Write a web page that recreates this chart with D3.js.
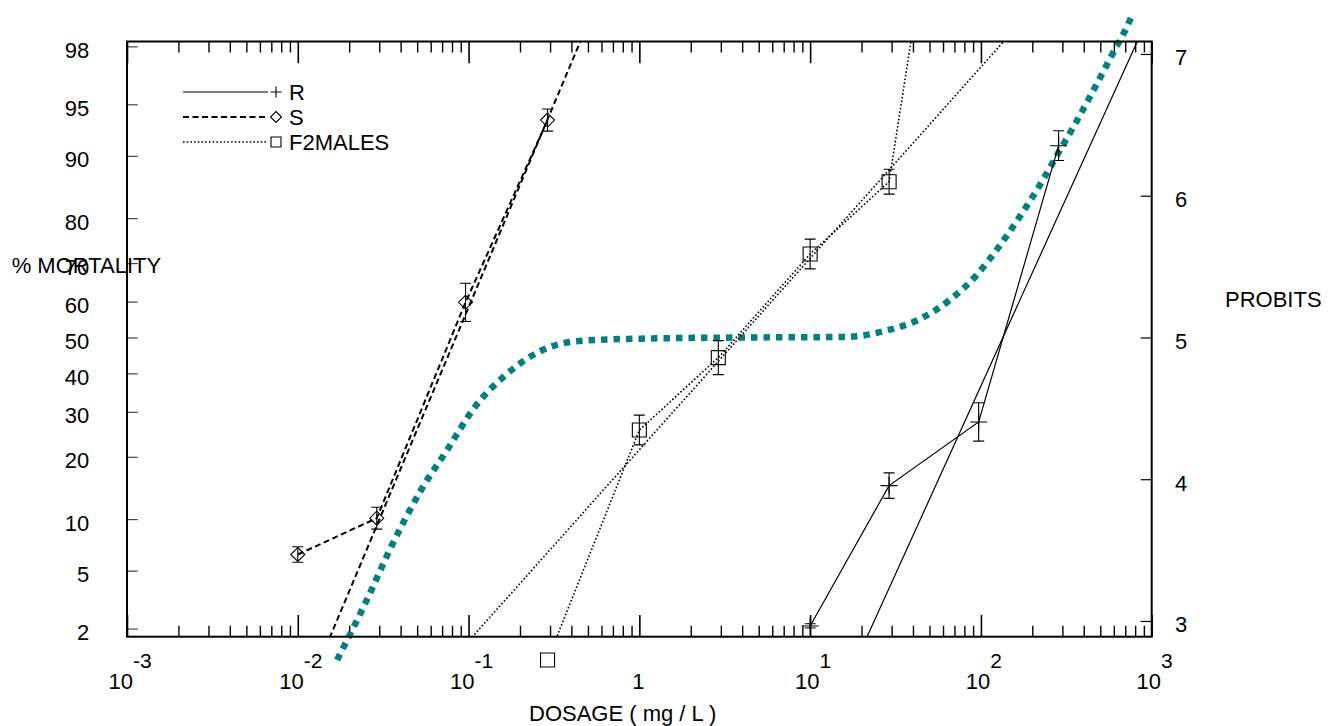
<!DOCTYPE html>
<html>
<head>
<meta charset="utf-8">
<script src="https://cdn.jsdelivr.net/npm/d3@7"></script>
<style>
  html, body { margin: 0; padding: 0; background: #fff; }
  svg { display: block; font-family: "Liberation Sans", Arial, Helvetica, sans-serif; }
</style>
</head>
<body>
<svg id="chart" width="1336" height="726"></svg>
<script>
// ---- axis ticks ----
const pctTicks = [2, 5, 10, 20, 30, 40, 50, 60, 70, 80, 90, 95, 98];
const probitTicks = [3, 4, 5, 6, 7];
const decadeExponents = [-3, -2, -1, 0, 1, 2, 3];

// ---- observed responses (probit units, with half-width of error bar) ----
const seriesNames = ["R", "S", "F2MALES"];

const rDose   = [10, 29, 97, 285];
const rProbit = [2.965, 3.955, 4.404, 6.353];
const rErr    = [0.015, 0.09, 0.135, 0.105];

const sDose   = [0.01, 0.029, 0.096, 0.29];
const sProbit = [3.469, 3.725, 5.248, 6.534];
const sErr    = [0.055, 0.077, 0.135, 0.078];

const fDose   = [0.29, 1, 2.9, 10, 29, 100];
const fProbit = [2.725, 4.347, 4.858, 5.589, 6.099, 10.26];
const fErr    = [0, 0.105, 0.12, 0.105, 0.088, 0];

// ---- fitted probit lines: probit = intercept + slope * log10(dose) ----
const fitIntercept = [-0.650, 8.079, 4.208];
const fitSlope     = [2.654, 2.866, 1.350];

// ---- expected response of a 1:1 mixture of S and R ----
const mixLog10Dose = [-1.770, -1.601, -1.448, -1.278, -1.122, -0.966, -0.767, -0.527, -0.312,
                      0.062, 0.648, 1.216, 1.438, 1.630, 1.813, 1.970, 2.106, 2.225, 2.342,
                      2.450, 2.557, 2.662, 2.762, 2.863, 2.891];
const mixProbit    = [2.725, 3.134, 3.536, 3.924, 4.213, 4.505, 4.752, 4.931, 4.979,
                      4.993, 5.000, 5.004, 5.046, 5.123, 5.260, 5.434, 5.641, 5.848, 6.069,
                      6.295, 6.518, 6.751, 6.981, 7.212, 7.289];

// inverse standard normal CDF (Acklam) used to place % mortality ticks on the probit axis
function normInv(p) {
  const a = [-3.969683028665376e+01, 2.209460984245205e+02, -2.759285104469687e+02, 1.383577518672690e+02, -3.066479806614716e+01, 2.506628277459239e+00];
  const b = [-5.447609879822406e+01, 1.615858368580409e+02, -1.556989798598866e+02, 6.680131188771972e+01, -1.328068155288572e+01];
  const c = [-7.784894002430293e-03, -3.223964580411365e-01, -2.400758277161838e+00, -2.549671010229024e+00, 4.374664141464968e+00, 2.938163982698783e+00];
  const d = [7.784695709041462e-03, 3.224671290700398e-01, 2.445134137142996e+00, 3.754408661907416e+00];
  const pl = 0.02425, ph = 1 - pl;
  let q, r;
  if (p < pl) {
    q = Math.sqrt(-2 * Math.log(p));
    return (((((c[0]*q+c[1])*q+c[2])*q+c[3])*q+c[4])*q+c[5]) / ((((d[0]*q+d[1])*q+d[2])*q+d[3])*q+1);
  }
  if (p <= ph) {
    q = p - 0.5; r = q * q;
    return (((((a[0]*r+a[1])*r+a[2])*r+a[3])*r+a[4])*r+a[5])*q / (((((b[0]*r+b[1])*r+b[2])*r+b[3])*r+b[4])*r+1);
  }
  q = Math.sqrt(-2 * Math.log(1 - p));
  return -(((((c[0]*q+c[1])*q+c[2])*q+c[3])*q+c[4])*q+c[5]) / ((((d[0]*q+d[1])*q+d[2])*q+d[3])*q+1);
}
const pctToProbit = pct => 5 + normInv(pct / 100);

// ---- layout ----
const plot = { left: 127, right: 1151.7, top: 41.5, bottom: 636.7 };
const FONT = 22;

const svg = d3.select("#chart");

const x = d3.scaleLog().domain([1e-3, 1e3]).range([plot.left, plot.right]);
const y = d3.scaleLinear().domain([2.889, 7.088]).range([plot.bottom, plot.top]);

svg.append("defs").append("clipPath").attr("id", "plotClip")
  .append("rect")
  .attr("x", plot.left).attr("y", plot.top)
  .attr("width", plot.right - plot.left).attr("height", plot.bottom - plot.top);

// ---- x ticks (major decades and minor 2..9) ----
const majorX = decadeExponents.map(e => Math.pow(10, e));
const minorX = [];
decadeExponents.slice(0, -1).forEach(e => {
  for (let k = 2; k <= 9; k++) minorX.push(k * Math.pow(10, e));
});

function styleTicks(g, width) {
  g.select(".domain").remove();
  g.selectAll(".tick line").attr("stroke", "#000").attr("stroke-width", width);
  g.selectAll(".tick text").remove();
}

svg.append("g").attr("transform", `translate(0,${plot.bottom})`)
  .call(d3.axisTop(x).tickValues(majorX).tickSize(21.7).tickFormat(""))
  .call(g => styleTicks(g, 1.6));
svg.append("g").attr("transform", `translate(0,${plot.bottom})`)
  .call(d3.axisTop(x).tickValues(minorX).tickSize(11).tickFormat(""))
  .call(g => styleTicks(g, 1.4));
svg.append("g").attr("transform", `translate(0,${plot.top})`)
  .call(d3.axisBottom(x).tickValues(majorX).tickSize(21.7).tickFormat(""))
  .call(g => styleTicks(g, 1.6));
svg.append("g").attr("transform", `translate(0,${plot.top})`)
  .call(d3.axisBottom(x).tickValues(minorX).tickSize(11).tickFormat(""))
  .call(g => styleTicks(g, 1.4));

// ---- left axis: % mortality ----
const leftAxis = svg.append("g").attr("transform", `translate(${plot.left},0)`)
  .call(d3.axisLeft(y)
    .tickValues(pctTicks.map(pctToProbit))
    .tickSizeInner(-10.7).tickSizeOuter(0).tickPadding(37.7)
    .tickFormat((d, i) => pctTicks[i]));
leftAxis.select(".domain").remove();
leftAxis.attr("font-family", null).attr("font-size", FONT);
leftAxis.selectAll(".tick line").attr("stroke", "#333").attr("stroke-width", 1.1);
leftAxis.selectAll(".tick text").attr("dy", 0).attr("y", 11).attr("fill", "#000");

// ---- right axis: probits ----
const rightAxis = svg.append("g").attr("transform", `translate(${plot.right},0)`)
  .call(d3.axisRight(y)
    .tickValues(probitTicks)
    .tickSizeInner(-11).tickSizeOuter(0).tickPadding(23.3)
    .tickFormat(d3.format("d")));
rightAxis.select(".domain").remove();
rightAxis.attr("font-family", null).attr("font-size", FONT);
rightAxis.selectAll(".tick line").attr("stroke", "#000").attr("stroke-width", 1.2);
rightAxis.selectAll(".tick text").attr("dy", 0).attr("y", 11).attr("fill", "#000");

// ---- x tick labels: 10 with superscript exponent ----
const xLabels = svg.append("g").attr("font-size", FONT).attr("text-anchor", "middle");
decadeExponents.forEach(e => {
  const t = xLabels.append("text").attr("x", x(Math.pow(10, e)) + 3).attr("y", 689);
  if (e === 0) {
    t.attr("x", x(1) - 1).text("1");
  } else {
    t.append("tspan").text("10");
    t.append("tspan").attr("dy", -21).style("font-size", "21px").text(String(e));
  }
});

// ---- axis titles ----
svg.append("text").attr("x", 11.7).attr("y", 273).attr("font-size", FONT).text("% MORTALITY");
svg.append("text").attr("x", 1225).attr("y", 307).attr("font-size", FONT).text("PROBITS");
svg.append("text").attr("x", 529).attr("y", 721).attr("font-size", FONT).text("DOSAGE ( mg / L )");

// ---- mixture curve ----
const mixPts = mixLog10Dose.map((d, i) => [Math.pow(10, d), mixProbit[i]]);
svg.append("path")
  .datum(mixPts)
  .attr("fill", "none")
  .attr("stroke", "#008080")
  .attr("stroke-width", 6.5)
  .attr("stroke-dasharray", "6.5,6")
  .attr("d", d3.line().x(d => x(d[0])).y(d => y(d[1])).curve(d3.curveMonotoneX));

// ---- series ----
const styles = [
  { dash: null,      width: 1.2, marker: "plus" },
  { dash: "6,3.5",   width: 2.0, marker: "diamond" },
  { dash: "1.6,2.1", width: 1.6, marker: "square" }
];
const seriesData = [
  { dose: rDose, probit: rProbit, err: rErr },
  { dose: sDose, probit: sProbit, err: sErr },
  { dose: fDose, probit: fProbit, err: fErr }
];

function markerPath(kind, h) {
  if (kind === "plus") return `M${-h},0H${h}M0,${-h}V${h}`;
  if (kind === "diamond") return `M0,${-h}L${h},0L0,${h}L${-h},0Z`;
  return `M${-h},${-h}H${h}V${h}H${-h}Z`;
}
const markerSize = { plus: 8.5, diamond: 7, square: 7 };

const lineGen = d3.line().x(d => x(d[0])).y(d => y(d[1]));
const clipped = svg.append("g").attr("clip-path", "url(#plotClip)");

seriesData.forEach((s, k) => {
  const st = styles[k];
  const pts = s.dose.map((d, i) => [d, s.probit[i]]);
  // connecting line through the observations
  clipped.append("path").datum(pts)
    .attr("fill", "none").attr("stroke", "#000")
    .attr("stroke-width", st.width)
    .attr("stroke-dasharray", st.dash)
    .attr("d", lineGen);
  // fitted probit regression line
  const fitPts = x.domain().map(d => [d, fitIntercept[k] + fitSlope[k] * Math.log10(d)]);
  clipped.append("path").datum(fitPts)
    .attr("fill", "none").attr("stroke", "#000")
    .attr("stroke-width", st.width)
    .attr("stroke-dasharray", st.dash)
    .attr("d", lineGen);
});

seriesData.forEach((s, k) => {
  const st = styles[k];
  const g = svg.append("g").attr("stroke", "#000").attr("fill", "none").attr("stroke-width", 1.1);
  s.dose.forEach((d, i) => {
    const cx = x(d), cy = y(s.probit[i]);
    if (s.err[i] > 0) {
      const y1 = y(s.probit[i] + s.err[i]), y2 = y(s.probit[i] - s.err[i]);
      g.append("path").attr("d", `M${cx},${y1}V${y2}M${cx - 5.5},${y1}H${cx + 5.5}M${cx - 5.5},${y2}H${cx + 5.5}`);
    }
    g.append("path")
      .attr("transform", `translate(${cx},${cy})`)
      .attr("d", markerPath(st.marker, markerSize[st.marker]));
  });
});

// ---- legend ----
const legend = svg.append("g").attr("font-size", FONT);
const legendMarker = { plus: 5.5, diamond: 5.5, square: 5 };
seriesNames.forEach((name, k) => {
  const st = styles[k];
  const ly = 92 + k * 25;
  legend.append("line")
    .attr("x1", 183).attr("x2", 268).attr("y1", ly).attr("y2", ly)
    .attr("stroke", "#000").attr("stroke-width", st.width)
    .attr("stroke-dasharray", st.dash);
  legend.append("path")
    .attr("transform", `translate(276,${ly})`)
    .attr("d", markerPath(st.marker, legendMarker[st.marker]))
    .attr("fill", "none").attr("stroke", "#000").attr("stroke-width", 1.1);
  legend.append("text").attr("x", 289).attr("y", ly + 8).text(name);
});

// ---- frame ----
svg.append("rect")
  .attr("x", plot.left).attr("y", plot.top)
  .attr("width", plot.right - plot.left).attr("height", plot.bottom - plot.top)
  .attr("fill", "none").attr("stroke", "#000").attr("stroke-width", 2);
</script>
</body>
</html>
